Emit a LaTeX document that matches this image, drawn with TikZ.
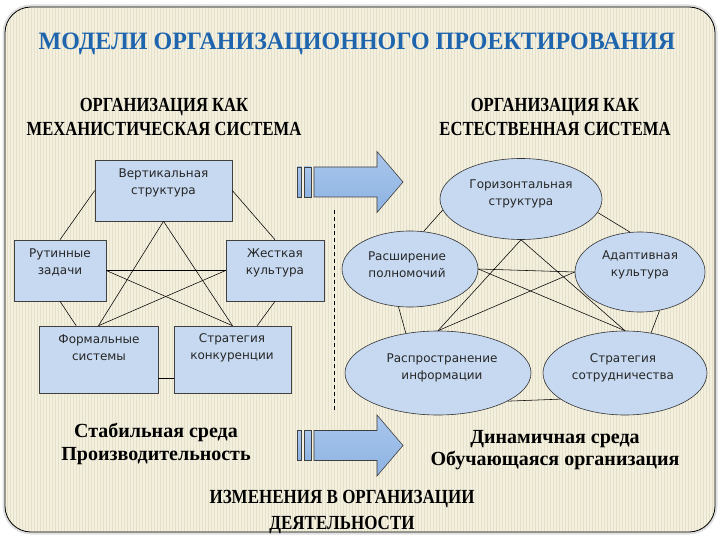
\documentclass[tikz,border=0pt]{standalone}
\usepackage{fontspec}
\usepackage{graphicx}
\setmainfont{Liberation Serif}
\newfontfamily\boxfont{DejaVu Sans}
\usetikzlibrary{shapes.geometric}
\pgfdeclarelayer{bg}
\pgfsetlayers{bg,main}
\definecolor{cream}{HTML}{F4F0E0}
\definecolor{stripe}{HTML}{E6E0C8}
\definecolor{boxblue}{HTML}{C6D9F1}
\definecolor{arrowblue}{HTML}{8DB3E2}
\definecolor{arrowlight}{HTML}{A9C6EC}
\definecolor{titleblue}{HTML}{1F65AE}
\newcommand{\hx}[2]{\scalebox{#1}[1]{#2}}
\begin{document}
\begin{tikzpicture}[x=1pt,y=-1pt,
  box/.style={draw=black!75, line width=0.6pt, fill=boxblue, rectangle, inner sep=0pt},
  ell/.style={draw=black!80, line width=0.6pt, fill=boxblue, ellipse, inner sep=0pt},
  lbl/.style={font=\boxfont\fontsize{12}{17}\selectfont, align=center, text=black!85, inner sep=0pt},
  link/.style={draw=black, line width=0.55pt},
  caps/.style={font=\fontsize{20}{24}\selectfont\bfseries, align=center, inner sep=0pt},
  lower/.style={font=\fontsize{20}{22.5}\selectfont\bfseries, align=center, inner sep=0pt},
  bigarrow/.style={draw=black!75, line width=0.6pt, top color=arrowlight, bottom color=arrowblue},
  divider/.style={draw=black, line width=0.6pt, dash pattern=on 4pt off 3pt}
]
\useasboundingbox (0,0) rectangle (720,540);
% frame
\begin{pgfonlayer}{bg}
\fill[white] (0,0) rectangle (720,540);
\draw[black!12, line width=5pt, rounded corners=26pt] (5,7) rectangle (715,532);
\fill[cream, rounded corners=26pt] (5,7) rectangle (715,532);
\begin{scope}
\clip[rounded corners=26pt] (5,7) rectangle (715,532);
\foreach \x in {7,10,...,713} \draw[stripe, line width=0.9pt] (\x,7) -- (\x,532);
\end{scope}
\draw[black, line width=0.8pt, rounded corners=26pt] (5,7) rectangle (715,532);
\end{pgfonlayer}

% titles
\node[font=\fontsize{25}{28}\selectfont\bfseries, text=titleblue, inner sep=0pt] (title) at (357,44) {\hx{0.96}{МОДЕЛИ ОРГАНИЗАЦИОННОГО ПРОЕКТИРОВАНИЯ}};
\node[caps] (hleft) at (164,117) {\hx{0.83}{ОРГАНИЗАЦИЯ КАК}\\\hx{0.83}{МЕХАНИСТИЧЕСКАЯ СИСТЕМА}};
\node[caps] (hright) at (555,117) {\hx{0.83}{ОРГАНИЗАЦИЯ КАК}\\\hx{0.83}{ЕСТЕСТВЕННАЯ СИСТЕМА}};

% left diagram boxes
\node[box, minimum width=137pt, minimum height=61pt] (vert) at (163.5,190.5) {};
\node[box, minimum width=92pt, minimum height=61pt] (rut) at (60,270.5) {};
\node[box, minimum width=98pt, minimum height=61pt] (zh) at (275,270.5) {};
\node[box, minimum width=119pt, minimum height=67pt] (form) at (98.5,359.5) {};
\node[box, minimum width=117pt, minimum height=67pt] (strat) at (232.5,359.5) {};
\node[lbl] (vertT) at (163.5,183) {Вертикальная\\структура};
\node[lbl] (rutT) at (60,262.5) {Рутинные\\задачи};
\node[lbl] (zhT) at (275,262.5) {Жесткая\\культура};
\node[lbl] (formT) at (99,347.5) {Формальные\\системы};
\node[lbl] (stratT) at (232,347.5) {Стратегия\\конкуренции};

% left connectors
\draw[link] (vert.west) -- (rut.north);
\draw[link] (vert.east) -- (zh.north);
\draw[link] (vert.south) -- (form.north);
\draw[link] (vert.south) -- (strat.north);
\draw[link] (rut.east) -- (zh.west);
\draw[link] (rut.east) -- (strat.north);
\draw[link] (zh.west) -- (form.north);
\draw[link] (rut.south) -- (form);
\draw[link] (zh.south) -- (strat);
\draw[link] ([yshift=-18.5pt]form.east) -- ([yshift=-18.5pt]strat.west);

% right diagram ellipses
\node[ell, minimum width=162pt, minimum height=81pt] (hor) at (521,199) {};
\node[ell, minimum width=136pt, minimum height=76pt] (ras) at (410,269) {};
\node[ell, minimum width=130pt, minimum height=80pt] (adapt) at (640,272) {};
\node[ell, minimum width=186pt, minimum height=84pt] (rasp) at (438,373) {};
\node[ell, minimum width=164pt, minimum height=84pt] (coop) at (625,373) {};
\node[lbl] (horT) at (521,194) {Горизонтальная\\структура};
\node[lbl] (rasT) at (407,265) {Расширение\\полномочий};
\node[lbl] (adaptT) at (640,265) {Адаптивная\\культура};
\node[lbl] (raspT) at (442,367.5) {Распространение\\информации};
\node[lbl] (coopT) at (623,367.5) {Стратегия\\сотрудничества};

% right connectors
\draw[link] (hor.188) -- (ras.70);
\draw[link] (hor.-10) -- (adapt.104);
\draw[link] (ras.253) -- (rasp.129.5);
\draw[link] (adapt.-63) -- (coop.57);
\draw[link] (rasp.-22) -- (coop.202);
\draw[link] (hor.south) -- (rasp.north);
\draw[link] (hor.south) -- (coop.north);
\draw[link] (ras.east) -- (adapt.west);
\draw[link] (ras.east) -- (coop.north);
\draw[link] (adapt.west) -- (rasp.north);

% divider
\coordinate (dtop) at (334,210);
\coordinate (dbot) at (334,412);
\draw[divider] (dtop) -- (dbot);

% arrows
\foreach \yc in {182,445.5}{
  \begin{scope}[shift={(0,\yc)}]
    \draw[bigarrow] (297,-15) rectangle (301.5,15);
    \draw[bigarrow] (304,-15) rectangle (311,15);
    \draw[bigarrow] (314,-15) -- (377,-15) -- (377,-30.5) -- (403,0) -- (377,30.5) -- (377,15) -- (314,15) -- cycle;
  \end{scope}
}

% bottom texts
\node[lower] (envL) at (156,444) {Стабильная среда\\Производительность};
\node[lower] (envR) at (555,450) {Динамичная среда\\Обучающаяся организация};
\node[font=\fontsize{20}{25.5}\selectfont\bfseries, align=center, inner sep=0pt] (change) at (342,512) {\hx{0.85}{ИЗМЕНЕНИЯ В ОРГАНИЗАЦИИ}\\\hx{0.85}{ДЕЯТЕЛЬНОСТИ}};
\end{tikzpicture}
\end{document}
